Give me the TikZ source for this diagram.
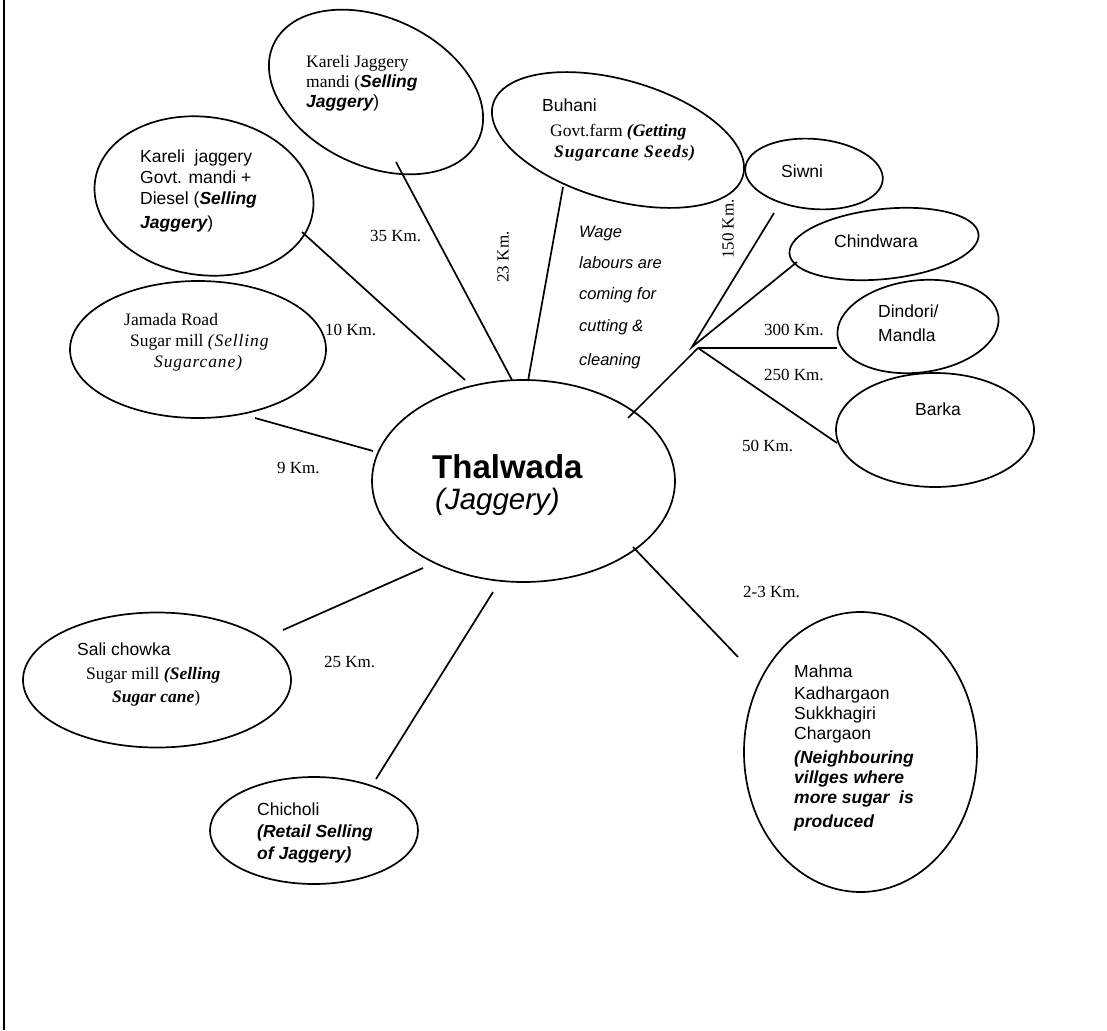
\documentclass[tikz,border=0pt]{standalone}
\usepackage{fontspec}
\setmainfont{Liberation Serif}
\setsansfont{Liberation Sans}
\newfontfamily\tms{Liberation Serif}
\newfontfamily\tmsls[LetterSpace=5]{Liberation Serif}
\newfontfamily\arl{Liberation Sans}
\usetikzlibrary{shapes.geometric}
\newcommand\bisty{\bfseries\itshape}
\begin{document}
\begin{tikzpicture}[x=1pt,y=1pt,
  oval/.style={draw, ellipse, line width=1.7pt, inner sep=0pt},
  link/.style={line width=1.7pt},
  lbl/.style={inner sep=0pt, anchor=base west, font=\tms\fontsize{17}{20}\selectfont},
  ser/.style={inner sep=0pt, anchor=base west, font=\tms\fontsize{17.5}{21}\selectfont},
  san/.style={inner sep=0pt, anchor=base west, font=\arl\fontsize{17.5}{21}\selectfont},
  wage/.style={inner sep=0pt, anchor=base west, font=\arl\itshape\fontsize{16.5}{20}\selectfont}]
\useasboundingbox (0,0) rectangle (1107,-1030);
\fill[white] (0,0) rectangle (1107,-1030);
\draw[line width=2.7pt] (4,0) -- (4,-1030);

% ellipses
\node[oval, minimum width=226pt, minimum height=148pt, rotate=-25] (kjm) at (376,-92) {};
\node[oval, minimum width=220pt, minimum height=158pt, rotate=-8] (kgm) at (204,-196) {};
\node[oval, minimum width=256pt, minimum height=137pt] (jam) at (198,-349.5) {};
\node[oval, minimum width=260pt, minimum height=120pt, rotate=-16] (buh) at (618,-140) {};
\node[oval, minimum width=138pt, minimum height=70pt, rotate=-5] (siw) at (814,-174) {};
\node[oval, minimum width=190pt, minimum height=70pt, rotate=6] (chi) at (884,-244) {};
\node[oval, minimum width=162pt, minimum height=92pt, rotate=7] (din) at (918,-326.5) {};
\node[oval, minimum width=198pt, minimum height=114pt] (bar) at (935,-430) {};
\node[oval, minimum width=233pt, minimum height=280pt] (mah) at (860.5,-752) {};
\node[oval, minimum width=303pt, minimum height=202pt] (tha) at (523.5,-481) {};
\node[oval, minimum width=268pt, minimum height=135pt] (sal) at (157,-680) {};
\node[oval, minimum width=208pt, minimum height=107pt] (chc) at (314,-830.5) {};

% connector end points
\coordinate (a1) at (396,-162); \coordinate (a2) at (512,-380);
\coordinate (b1) at (302,-232); \coordinate (b2) at (465,-380);
\coordinate (c1) at (563,-187); \coordinate (c2) at (528,-381);
\coordinate (d1) at (255,-418); \coordinate (d2) at (373,-451);
\coordinate (e1) at (423,-568); \coordinate (e2) at (283,-630);
\coordinate (f1) at (493,-592); \coordinate (f2) at (376,-779);
\coordinate (g1) at (633,-547); \coordinate (g2) at (738,-657);
\coordinate (h1) at (628,-418);
\coordinate (J1) at (692,-347); \coordinate (J2) at (698,-348);
\coordinate (s1) at (774,-213); \coordinate (s2) at (797,-262);
\coordinate (s3) at (837,-348); \coordinate (s4) at (837,-443);

\draw[link] (a1) -- (a2);
\draw[link] (b1) -- (b2);
\draw[link] (c1) -- (c2);
\draw[link] (d1) -- (d2);
\draw[link] (e1) -- (e2);
\draw[link] (f1) -- (f2);
\draw[link] (g1) -- (g2);
\draw[link] (h1) -- (J2);
\draw[link] (s1) -- (J1) -- (s2);
\draw[link] (J2) -- (s3);
\draw[link] (J2) -- (s4);

% texts
\node[ser] (kjm1) at (306,-68) {Kareli Jaggery};
\node[ser] (kjm2) at (306,-88) {mandi ({\arl\bisty Selling}};
\node[san] (kjm3) at (306,-108) {{\bisty Jaggery})};

\node[san] (kgm1) at (140,-162) {Kareli~~jaggery};
\node[san] (kgm2) at (140,-183) {Govt. mandi +};
\node[san] (kgm3) at (140,-204) {Diesel ({\bisty Selling}};
\node[san] (kgm4) at (140,-228) {{\bisty Jaggery})};

\node[ser] (jam1) at (124,-325) {Jamada Road};
\node[ser] (jam2) at (130,-346) {Sugar mill {\tmsls\itshape (Selling}};
\node[ser] (jam3) at (154,-367) {{\tmsls\itshape Sugarcane)}};

\node[san] (buh1) at (542,-111) {Buhani};
\node[ser] (buh2) at (550,-136) {Govt.farm {\bisty (Getting}};
\node[ser] (buh3) at (554,-157) {{\tmsls\bisty Sugarcane Seeds)}};

\node[san] (siw1) at (781,-177) {Siwni};
\node[san] (chi1) at (834,-247) {Chindwara};
\node[san] (din1) at (878,-317) {Dindori/};
\node[san] (din2) at (878,-341) {Mandla};
\node[san] (bar1) at (915,-415) {Barka};

\node[wage] (w1) at (579,-237) {Wage};
\node[wage] (w2) at (579,-268) {labours are};
\node[wage] (w3) at (579,-299) {coming for};
\node[wage] (w4) at (579,-331) {cutting \&};
\node[wage] (w5) at (579,-365) {cleaning};

\node[inner sep=0pt, anchor=base west, font=\arl\bfseries\fontsize{33}{38}\selectfont] (tha1) at (432,-478) {Thalwada};
\node[inner sep=0pt, anchor=base west, font=\arl\itshape\fontsize{29.5}{34}\selectfont] (tha2) at (435,-509) {(Jaggery)};

\node[san] (mah1) at (794,-677) {Mahma};
\node[san] (mah2) at (794,-699) {Kadhargaon};
\node[san] (mah3) at (794,-719) {Sukkhagiri};
\node[san] (mah4) at (794,-739) {Chargaon};
\node[san] (mah5) at (794,-763) {\bisty (Neighbouring};
\node[san] (mah6) at (794,-783) {\bisty villges where};
\node[san] (mah7) at (794,-803) {\bisty more sugar~~is};
\node[san] (mah8) at (794,-827) {\bisty produced};

\node[san] (sal1) at (77,-655) {Sali chowka};
\node[ser] (sal2) at (86,-679) {Sugar mill {\bisty (Selling}};
\node[ser] (sal3) at (112,-702) {{\bisty Sugar cane})};

\node[san] (chc1) at (257,-815) {Chicholi};
\node[san] (chc2) at (257,-837) {\bisty (Retail Selling};
\node[san] (chc3) at (257,-859) {\bisty of Jaggery)};

% distance labels
\node[lbl] (k35) at (370,-241) {35 Km.};
\node[lbl, anchor=center, rotate=90] (k23) at (503,-257) {23 Km.};
\node[lbl] (k10) at (325,-335) {10 Km.};
\node[lbl] (k9) at (277,-473) {9 Km.};
\node[lbl, anchor=center, rotate=90] (k150) at (728,-229) {150 Km.};
\node[lbl] (k300) at (764,-335) {300 Km.};
\node[lbl] (k250) at (764,-380) {250 Km.};
\node[lbl] (k50) at (742,-451) {50 Km.};
\node[lbl] (k25) at (324,-667) {25 Km.};
\node[lbl] (k2) at (743,-597) {2-3 Km.};
\end{tikzpicture}
\end{document}
